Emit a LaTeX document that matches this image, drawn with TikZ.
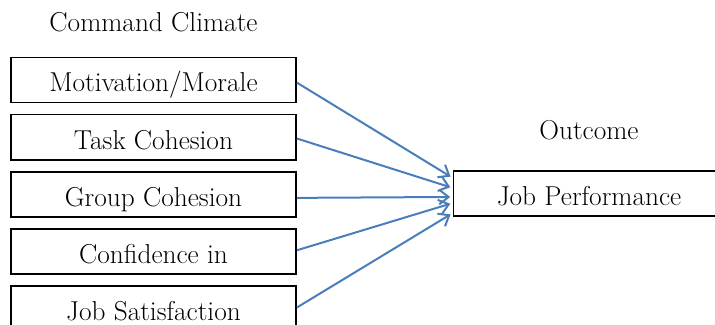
\documentclass[tikz,border=0pt]{standalone}
\usetikzlibrary{positioning,arrows.meta}
\definecolor{linkblue}{RGB}{74,126,187}
\tikzset{
    >={Straight Barb[length=7pt,width=11pt]},
    factor/.style={
        rectangle,
        draw=black, line width=1.2pt,
        minimum width=214pt,
        minimum height=34pt,
        text height=18pt, text depth=0.2pt,
        text centered,
        font=\fontsize{20.5}{24}\selectfont
    },
    head/.style={font=\fontsize{20.5}{24}\selectfont},
    link/.style={draw=linkblue, line width=1.5pt, ->, shorten >=2pt}
}

\begin{document}
\begin{tikzpicture}[x=0.75pt, y=-0.75pt, node distance=7.7pt and 1cm]
    \useasboundingbox (0,0) rectangle (715,325);

    \node[head] (climate) at (153.5,22) {Command Climate};
    \node[factor] (C1) at (153.5,80) {Motivation/Morale};
    \node[factor, below=of C1] (C2) {Task Cohesion};
    \node[factor, below=of C2] (C3) {Group Cohesion};
    \node[factor, below=of C3] (C4) {Confidence in};
    \node[factor, below=of C4] (C5) {Job Satisfaction};

    \node[head] (outcome) at (589,130.5) {Outcome};
    \node[factor, minimum width=203pt] (perf) at (589,193.5) {Job Performance};

    \draw[link] ([yshift=-2pt]C1.east) -- ([yshift=11.6pt]perf.west);
    \draw[link] ([yshift=-1pt]C2.east) -- ([yshift=4.1pt]perf.west);
    \draw[link] ([yshift=-2.6pt]C3.east) -- ([yshift=-2.6pt]perf.west);
    \draw[link] ([yshift=1pt]C4.east) -- ([yshift=-7.1pt]perf.west);
    \draw[link] ([yshift=1pt]C5.east) -- ([yshift=-14.6pt]perf.west);
\end{tikzpicture}
\end{document}
